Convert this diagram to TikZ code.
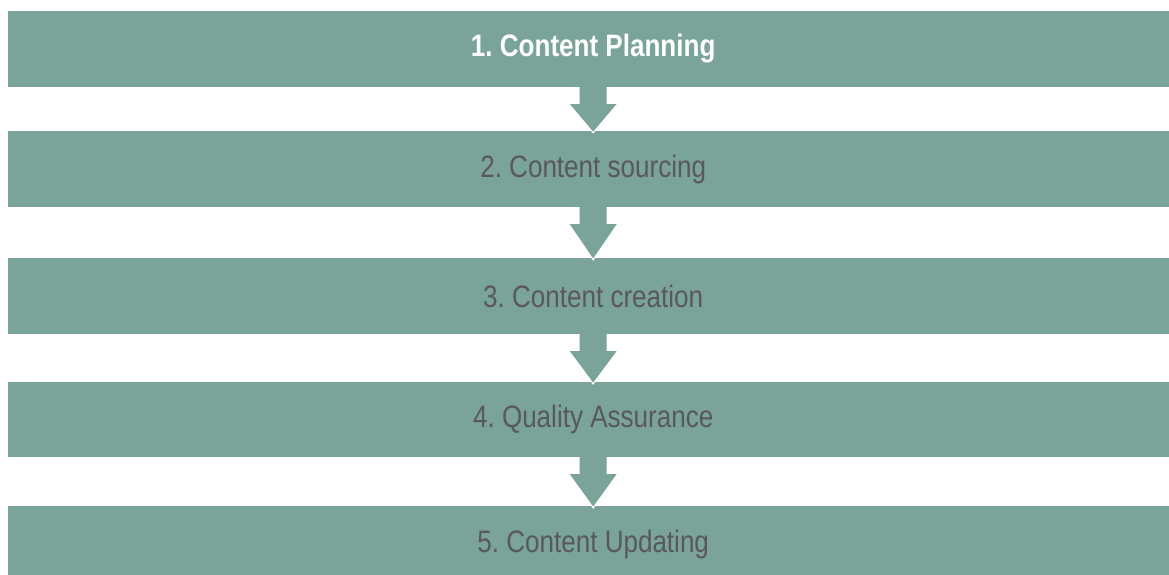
\documentclass[tikz,border=0pt]{standalone}
\usepackage{fontspec}
\setmainfont{Liberation Sans}[FakeStretch=0.84]
\frenchspacing
\usetikzlibrary{calc}
\definecolor{stepfill}{HTML}{7AA39A}
\definecolor{steptext}{HTML}{595959}
\begin{document}
\begin{tikzpicture}[x=1pt,y=1pt,
  stagebox/.style={fill=stepfill, draw=none, minimum width=1170pt, inner sep=0pt,
    font=\fontsize{31}{36}\selectfont, text=steptext, anchor=west},
  firstbox/.style={stagebox, text=white, font=\fontsize{31}{36}\selectfont\bfseries},
  arrowbody/.style={fill=stepfill, draw=none},
  arrowrim/.style={draw=white, line width=1.2pt, line join=miter}]
\useasboundingbox (0,0) rectangle (1169,574);
\fill[white] (0,0) rectangle (1169,574);

% stage bars, left edge at x=8 (the last one runs past the bottom edge)
\node[firstbox, minimum height=76pt] (s1) at (8,525)   {1. Content Planning};
\node[stagebox, minimum height=76pt] (s2) at (8,405)   {2. Content sourcing};
\node[stagebox, minimum height=76pt] (s3) at (8,278)   {3. Content creation};
\node[stagebox, minimum height=75pt] (s4) at (8,154.5) {4. Quality Assurance};
\node[stagebox, minimum height=76pt] (s5) at (8,30)    {5. Content Updating};

% block arrow from the bottom of one bar into the top of the next
\foreach \a/\b in {s1/s2, s2/s3, s3/s4, s4/s5}{
  \fill[arrowbody]
    ($(\a.south)+(-13.5,0)$) -- ($(\a.south)+(-13.5,-16)$) -- ($(\a.south)+(-25,-16)$)
    -- ($(\b.north)+(0,-2)$)
    -- ($(\a.south)+(25,-16)$) -- ($(\a.south)+(13.5,-16)$) -- ($(\a.south)+(13.5,0)$) -- cycle;
  \draw[arrowrim]
    ($(\a.south)+(-13.5,-16)$) -- ($(\a.south)+(-25,-16)$)
    -- ($(\b.north)+(0,-2)$)
    -- ($(\a.south)+(25,-16)$) -- ($(\a.south)+(13.5,-16)$);
}
\end{tikzpicture}
\end{document}
